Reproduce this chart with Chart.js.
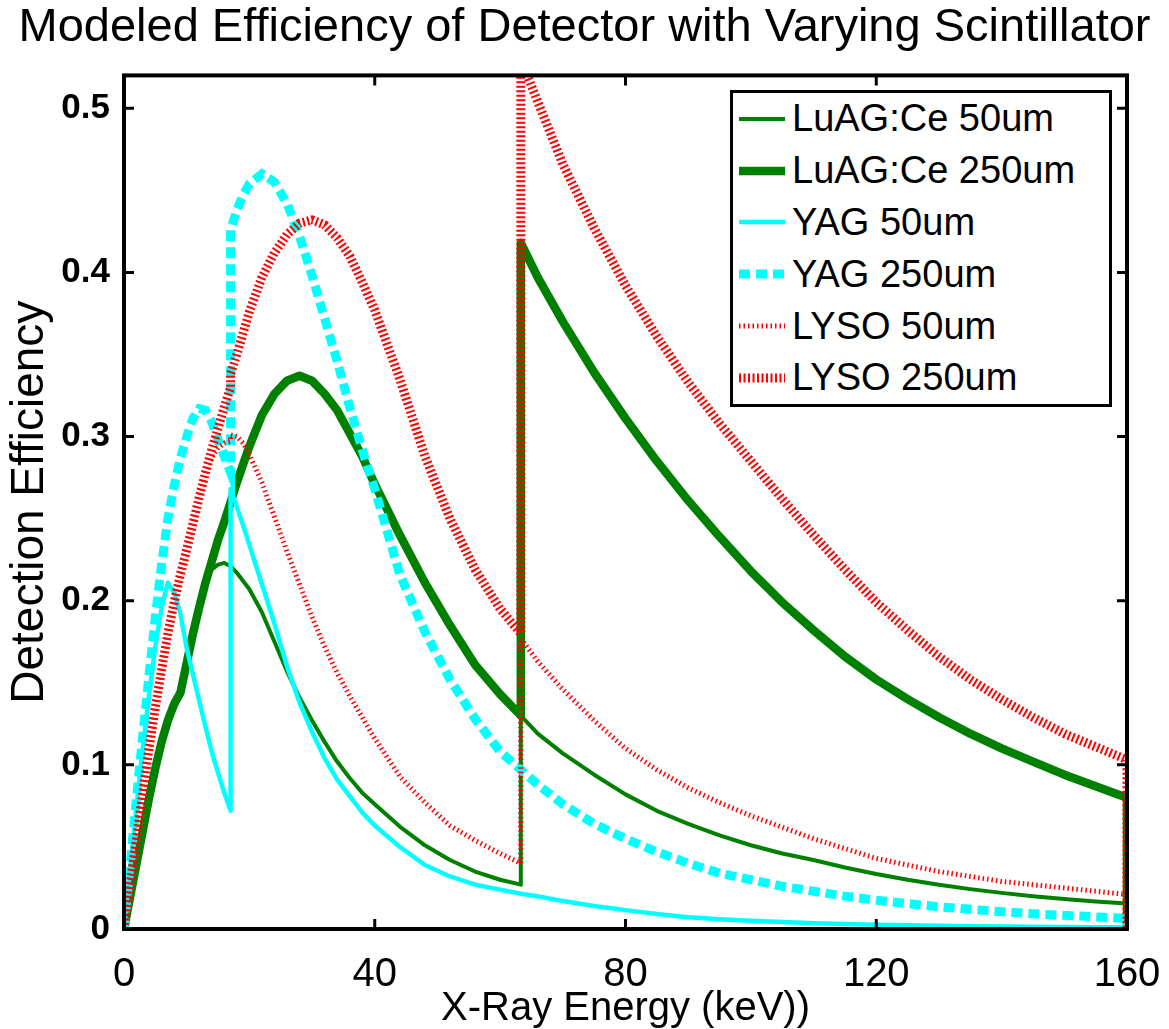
<!DOCTYPE html>
<html>
<head>
<meta charset="utf-8">
<title>Modeled Efficiency of Detector with Varying Scintillator</title>
<script src="https://cdn.jsdelivr.net/npm/chart.js@4.4.1/dist/chart.umd.min.js"></script>
<style>
  html, body { margin: 0; padding: 0; background: #fff; }
  #wrap { position: relative; width: 1169px; height: 1029px; }
  #legend {
    position: absolute; left: 730px; top: 90px; width: 376px; height: 311px;
    border: 3px solid #000; background: #fff;
    font-family: 'Liberation Sans', Arial, sans-serif; font-size: 38px; color: #000;
  }
  .row { height: 51.8px; display: flex; align-items: center; white-space: nowrap; }
  .row svg { margin-left: 6px; margin-right: 7px; flex: none; }
</style>
</head>
<body>
<div id="wrap">
  <canvas id="effChart" width="1169" height="1029"></canvas>
  <div id="legend"></div>
</div>
<script>
// energy grid in keV; repeated values are the absorption edges (Y K 17 keV, Lu K 63.3 keV) and the cut at 160
const energy = [0, 1, 2, 3, 4, 5, 6, 7, 8, 9, 10, 11, 12, 13, 14, 15, 16, 17, 17, 18, 19, 20,
  22, 24, 26, 28, 30, 32, 34, 36, 38, 40, 44, 48, 52, 56, 60, 63.3, 63.3, 66,
  70, 75, 80, 85, 90, 95, 100, 105, 110, 115, 120, 125, 130, 135, 140, 145, 150, 155, 160, 160];

const luag50 = [0, 0.02, 0.04, 0.06, 0.08, 0.098, 0.114, 0.127, 0.137, 0.144, 0.162, 0.180, 0.196, 0.211, 0.219, 0.222, 0.223, 0.221, 0.221, 0.217, 0.212, 0.207,
  0.193, 0.175, 0.157, 0.141, 0.127, 0.114, 0.102, 0.092, 0.083, 0.076, 0.0624, 0.051, 0.042, 0.035, 0.030, 0.027, 0.130, 0.119,
  0.107, 0.094, 0.082, 0.072, 0.064, 0.057, 0.051, 0.046, 0.042, 0.0375, 0.0335, 0.030, 0.027, 0.0243, 0.022, 0.020, 0.0183, 0.0168, 0.0155, 0];

const luag250 = [0, 0.02, 0.04, 0.06, 0.08, 0.098, 0.114, 0.127, 0.137, 0.144, 0.162, 0.180, 0.196, 0.211, 0.224, 0.237, 0.248, 0.260, 0.260, 0.272, 0.283, 0.294,
  0.313, 0.326, 0.334, 0.337, 0.334, 0.326, 0.316, 0.302, 0.288, 0.271, 0.240, 0.211, 0.185, 0.161, 0.143, 0.130, 0.418, 0.397,
  0.370, 0.339, 0.311, 0.285, 0.261, 0.239, 0.218, 0.199, 0.182, 0.166, 0.152, 0.140, 0.129, 0.119, 0.110, 0.102, 0.094, 0.087, 0.080, 0];

const yag50 = [0, 0.038, 0.075, 0.11, 0.143, 0.172, 0.196, 0.211, 0.205, 0.192, 0.171, 0.155, 0.139, 0.123, 0.108, 0.095, 0.083, 0.072, 0.268, 0.257, 0.246, 0.234,
  0.210, 0.186, 0.160, 0.138, 0.120, 0.104, 0.091, 0.081, 0.071, 0.063, 0.050, 0.039, 0.032, 0.027, 0.024, 0.0215, 0.0215, 0.020,
  0.017, 0.014, 0.0115, 0.0092, 0.0072, 0.006, 0.005, 0.0042, 0.0035, 0.003, 0.0026, 0.0023, 0.002, 0.0017, 0.0015, 0.0013, 0.0012, 0.0011, 0.001, 0];

const yag250 = [0, 0.04, 0.08, 0.118, 0.155, 0.19, 0.222, 0.25, 0.27, 0.287, 0.300, 0.311, 0.317, 0.316, 0.309, 0.298, 0.288, 0.278, 0.426, 0.438, 0.447, 0.454,
  0.460, 0.455, 0.442, 0.422, 0.398, 0.372, 0.346, 0.318, 0.292, 0.268, 0.216, 0.181, 0.152, 0.128, 0.108, 0.097, 0.097, 0.088,
  0.076, 0.064, 0.055, 0.047, 0.040, 0.034, 0.030, 0.026, 0.023, 0.020, 0.0175, 0.0155, 0.0135, 0.012, 0.0105, 0.0093, 0.0083, 0.0074, 0.0065, 0];

const lyso50 = [0, 0.028, 0.055, 0.083, 0.11, 0.135, 0.158, 0.180, 0.199, 0.216, 0.231, 0.247, 0.263, 0.278, 0.287, 0.293, 0.296, 0.297, 0.301, 0.300, 0.296, 0.289,
  0.272, 0.251, 0.230, 0.210, 0.190, 0.172, 0.156, 0.142, 0.129, 0.116, 0.093, 0.077, 0.063, 0.054, 0.046, 0.040, 0.177, 0.163,
  0.146, 0.127, 0.110, 0.097, 0.086, 0.077, 0.069, 0.062, 0.055, 0.049, 0.043, 0.039, 0.035, 0.032, 0.029, 0.027, 0.025, 0.023, 0.021, 0];

const lyso250 = [0, 0.028, 0.055, 0.083, 0.11, 0.135, 0.158, 0.180, 0.199, 0.216, 0.231, 0.247, 0.263, 0.278, 0.292, 0.305, 0.318, 0.330, 0.338, 0.350, 0.363, 0.376,
  0.397, 0.412, 0.423, 0.430, 0.432, 0.429, 0.421, 0.410, 0.394, 0.377, 0.335, 0.288, 0.250, 0.219, 0.195, 0.180, 0.530, 0.504,
  0.466, 0.427, 0.392, 0.361, 0.333, 0.308, 0.285, 0.262, 0.240, 0.219, 0.199, 0.182, 0.166, 0.152, 0.140, 0.129, 0.119, 0.111, 0.103, 0];

const seriesNames = ['LuAG:Ce 50um', 'LuAG:Ce 250um', 'YAG 50um', 'YAG 250um', 'LYSO 50um', 'LYSO 250um'];
const xTicks = [0, 40, 80, 120, 160];
const yTicks = [0, 0.1, 0.2, 0.3, 0.4, 0.5];

const FONT = "'Liberation Sans', Arial, sans-serif";

function pts(vals) {
  return energy.map((e, i) => ({ x: e, y: vals[i] }));
}

// line styles, same order as seriesNames
const styles = [
  { color: '#008000', width: 4, dash: [] },
  { color: '#008000', width: 8.5, dash: [] },
  { color: '#00ffff', width: 4.5, dash: [] },
  { color: '#00ffff', width: 9, dash: [11, 6] },
  { color: '#ff0000', width: 5, dash: [1.5, 3] },
  { color: '#ff0000', width: 9, dash: [2, 2.5] },
];
const values = [luag50, luag250, yag50, yag250, lyso50, lyso250];

const datasets = values.map((v, i) => ({
  label: seriesNames[i],
  data: pts(v),
  borderColor: styles[i].color,
  borderWidth: styles[i].width,
  borderDash: styles[i].dash,
  borderCapStyle: 'butt',
  borderJoinStyle: styles[i].dash.length ? 'miter' : 'round',
  pointRadius: 0,
  tension: 0,
  fill: false,
  order: values.length - i, // later series drawn on top, like the original
}));

// axes box with inward ticks on all four sides
const boxPlugin = {
  id: 'axesBox',
  afterDatasetsDraw(chart) {
    const { ctx, chartArea: a, scales } = chart;
    ctx.save();
    ctx.strokeStyle = '#000';
    ctx.lineWidth = 3;
    const tl = 10;
    ctx.beginPath();
    xTicks.forEach(v => {
      const px = scales.x.getPixelForValue(v);
      ctx.moveTo(px, a.bottom); ctx.lineTo(px, a.bottom - tl);
      ctx.moveTo(px, a.top); ctx.lineTo(px, a.top + tl);
    });
    yTicks.forEach(v => {
      const py = scales.y.getPixelForValue(v);
      ctx.moveTo(a.left, py); ctx.lineTo(a.left + tl, py);
      ctx.moveTo(a.right, py); ctx.lineTo(a.right - tl, py);
    });
    ctx.stroke();
    ctx.lineWidth = 4;
    ctx.strokeRect(a.left, a.top, a.right - a.left, a.bottom - a.top);
    ctx.restore();
  }
};

const chart = new Chart(document.getElementById('effChart'), {
  type: 'line',
  data: { datasets },
  options: {
    responsive: false,
    animation: false,
    devicePixelRatio: 1,
    layout: { padding: 0 },
    plugins: {
      legend: { display: false },
      tooltip: { enabled: false },
      title: {
        display: true,
        text: 'Modeled Efficiency of Detector with Varying Scintillator',
        color: '#000',
        font: { family: FONT, size: 47, weight: 'normal', lineHeight: 1.2 },
        padding: { top: 0, bottom: 19 },
      },
    },
    scales: {
      x: {
        type: 'linear', min: 0, max: 160,
        // fixed room under and right of the plot
        afterFit(s) { s.height = 100; s.paddingLeft = 0; s.paddingRight = 42; },
        afterBuildTicks(s) { s.ticks = xTicks.map(v => ({ value: v })); },
        grid: { display: false, drawTicks: false },
        border: { display: false },
        ticks: { color: '#000', padding: 22, maxRotation: 0, font: { family: FONT, size: 40 } },
        title: {
          display: true, text: 'X-Ray Energy (keV))', color: '#000',
          font: { family: FONT, size: 40, lineHeight: 1 }, padding: { top: 0, bottom: 0 },
        },
      },
      y: {
        type: 'linear', min: 0, max: 0.52,
        afterFit(s) { s.width = 124; s.paddingTop = 0; s.paddingBottom = 0; },
        afterBuildTicks(s) { s.ticks = yTicks.map(v => ({ value: v })); },
        grid: { display: false, drawTicks: false },
        border: { display: false },
        ticks: {
          color: '#000', padding: 14,
          font: { family: FONT, size: 35, weight: 'bold' },
          callback: v => (v === 0 ? '0' : v.toFixed(1)),
        },
        title: {
          display: true, text: 'Detection Efficiency', color: '#000',
          font: { family: FONT, size: 46, lineHeight: 1.2 }, padding: { top: 3, bottom: 0 },
        },
      },
    },
  },
  plugins: [boxPlugin],
});

// legend drawn as html over the plot, built from the dataset styles
const legend = document.getElementById('legend');
chart.data.datasets.forEach(ds => {
  const row = document.createElement('div');
  row.className = 'row';
  const dash = ds.borderDash.length ? ` stroke-dasharray="${ds.borderDash.join(' ')}"` : '';
  row.innerHTML = `<svg width="46" height="20"><line x1="0" y1="10" x2="46" y2="10" stroke="${ds.borderColor}" stroke-width="${ds.borderWidth}"${dash}/></svg><span>${ds.label}</span>`;
  legend.appendChild(row);
});
</script>
</body>
</html>
